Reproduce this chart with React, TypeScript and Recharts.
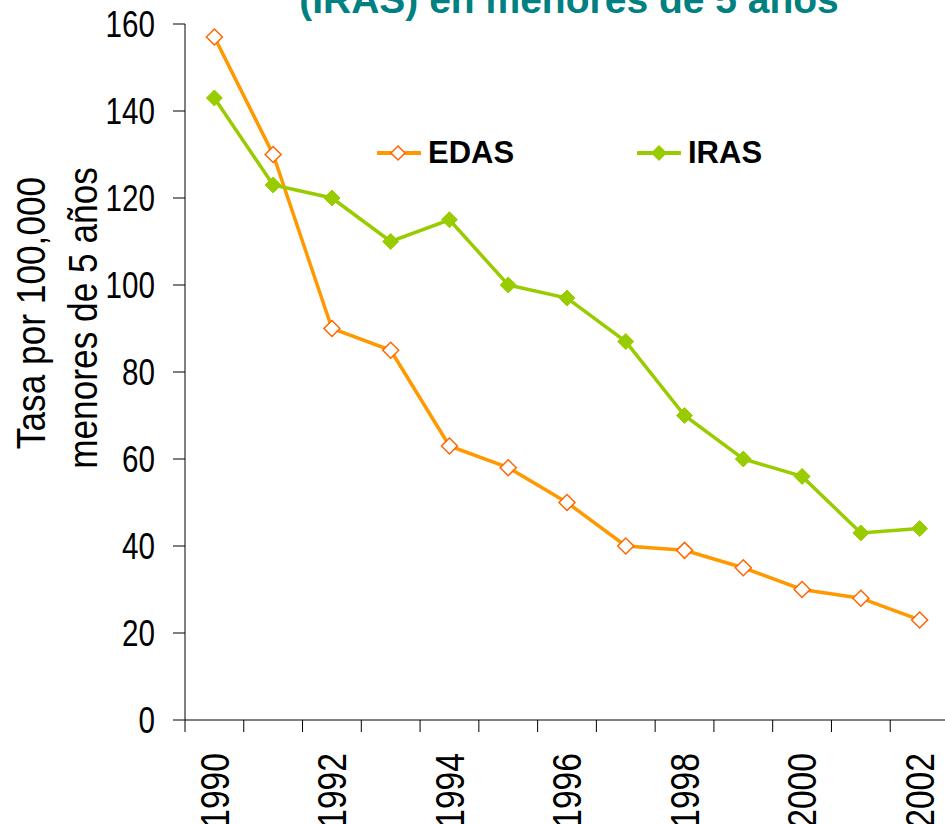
import React from 'react';
import { LineChart, Line, XAxis, YAxis } from 'recharts';

const years = [1990, 1991, 1992, 1993, 1994, 1995, 1996, 1997, 1998, 1999, 2000, 2001, 2002];
const edas = [157, 130, 90, 85, 63, 58, 50, 40, 39, 35, 30, 28, 23];
const iras = [143, 123, 120, 110, 115, 100, 97, 87, 70, 60, 56, 43, 44];
const yTicks = [0, 20, 40, 60, 80, 100, 120, 140, 160];
const labelYears = [1990, 1992, 1994, 1996, 1998, 2000, 2002];
const seriesNames = ['EDAS', 'IRAS'];
const titleText = '(IRAS) en menores de 5 años';
const yLabelLines = ['Tasa por 100,000', 'menores de 5 años'];

const data = years.map((year, i) => ({ year, EDAS: edas[i], IRAS: iras[i] }));
const boundaries = [...years.map(y => y - 0.5), years[years.length - 1] + 0.5];

const EDAS_LINE = '#FF9900';
const EDAS_MARK = '#FF6600';
const IRAS_COLOR = '#99CC00';
const SANS = "'Liberation Sans', Arial, sans-serif";

const diamond = (cx: number, cy: number, r: number) =>
  `M${cx},${cy - r} L${cx + r},${cy} L${cx},${cy + r} L${cx - r},${cy} Z`;

const EdasDot = (props: any) => {
  const { cx, cy, index } = props;
  return <path key={`e${index}`} d={diamond(cx, cy, 8)} fill="#fff" stroke={EDAS_MARK} strokeWidth={1.5} />;
};

const IrasDot = (props: any) => {
  const { cx, cy, index } = props;
  return <path key={`i${index}`} d={diamond(cx, cy, 8)} fill={IRAS_COLOR} stroke={IRAS_COLOR} strokeWidth={1} />;
};

// the reference uses a condensed face, so Liberation Sans is squeezed along the text
const XTick = (props: any) => {
  const { x, y, payload } = props;
  const v = payload.value;
  if (v % 1 !== 0) {
    return <line x1={x} x2={x} y1={y} y2={y + 12} stroke="#000" strokeWidth={1} />;
  }
  if (!labelYears.includes(v)) return null;
  const ty = y + 33;
  return (
    <text
      transform={`translate(${x} ${ty}) rotate(-90) scale(0.82 1)`}
      textAnchor="end"
      dominantBaseline="central"
      fontFamily={SANS}
      fontSize={41}
      fill="#000"
    >
      {v}
    </text>
  );
};

const YTick = (props: any) => {
  const { x, y, payload } = props;
  return (
    <text
      transform={`translate(${x} ${y}) scale(0.8 1)`}
      textAnchor="end"
      dominantBaseline="central"
      fontFamily={SANS}
      fontSize={37}
      fill="#000"
    >
      {payload.value}
    </text>
  );
};

const YLabel = () => (
  <g fontFamily={SANS} fontSize={41} fill="#000">
    <text transform="translate(45 313) rotate(-90) scale(0.86 1)" textAnchor="middle">
      {yLabelLines[0]}
    </text>
    <text transform="translate(97 318) rotate(-90) scale(0.86 1)" textAnchor="middle">
      {yLabelLines[1]}
    </text>
  </g>
);

const LegendBox = () => (
  <div style={{ position: 'absolute', left: 377, top: 133, width: 420, height: 40, fontFamily: SANS, fontWeight: 'bold', fontSize: 31 }}>
    {seriesNames.map((name, i) => (
      <div key={name} style={{ position: 'absolute', left: i * 260, top: 0, display: 'flex', alignItems: 'center', height: 40 }}>
        <svg width={44} height={20} style={{ marginRight: 7 }}>
          <line x1={1} x2={43} y1={10} y2={10} stroke={i === 0 ? EDAS_LINE : IRAS_COLOR} strokeWidth={4} strokeLinecap="round" />
          {i === 0 ? (
            <path d={diamond(21, 10, 7)} fill="#fff" stroke={EDAS_MARK} strokeWidth={1.5} />
          ) : (
            <path d={diamond(22, 10, 8)} fill={IRAS_COLOR} />
          )}
        </svg>
        <span style={{ color: '#000' }}>{name}</span>
      </div>
    ))}
  </div>
);

export default function App() {
  return (
    <div style={{ position: 'absolute', left: 0, top: 0, width: 945, height: 824, overflow: 'hidden', background: '#fff' }}>
      <LineChart width={960} height={824} data={data} margin={{ top: 24, right: 11, bottom: 0, left: 0 }}>
        <text x={569} y={13} textAnchor="middle" fontFamily={SANS} fontWeight="bold" fontSize={39} fill="#008080">
          {titleText}
        </text>
        <YLabel />
        <XAxis
          dataKey="year"
          type="number"
          domain={[1989.5, 2002.5]}
          ticks={[...boundaries, ...labelYears]}
          interval={0}
          tick={<XTick />}
          tickLine={false}
          tickSize={0}
          tickMargin={0}
          height={104}
          stroke="#000"
          allowDataOverflow
        />
        <YAxis
          domain={[0, 160]}
          ticks={yTicks}
          interval={0}
          width={185}
          tickSize={12}
          tickMargin={18}
          stroke="#000"
          tick={<YTick />}
        />
        <Line
          dataKey="EDAS"
          stroke={EDAS_LINE}
          strokeWidth={3.5}
          dot={EdasDot}
          activeDot={false}
          isAnimationActive={false}
        />
        <Line
          dataKey="IRAS"
          stroke={IRAS_COLOR}
          strokeWidth={3.5}
          dot={IrasDot}
          activeDot={false}
          isAnimationActive={false}
        />
      </LineChart>
      <LegendBox />
    </div>
  );
}
